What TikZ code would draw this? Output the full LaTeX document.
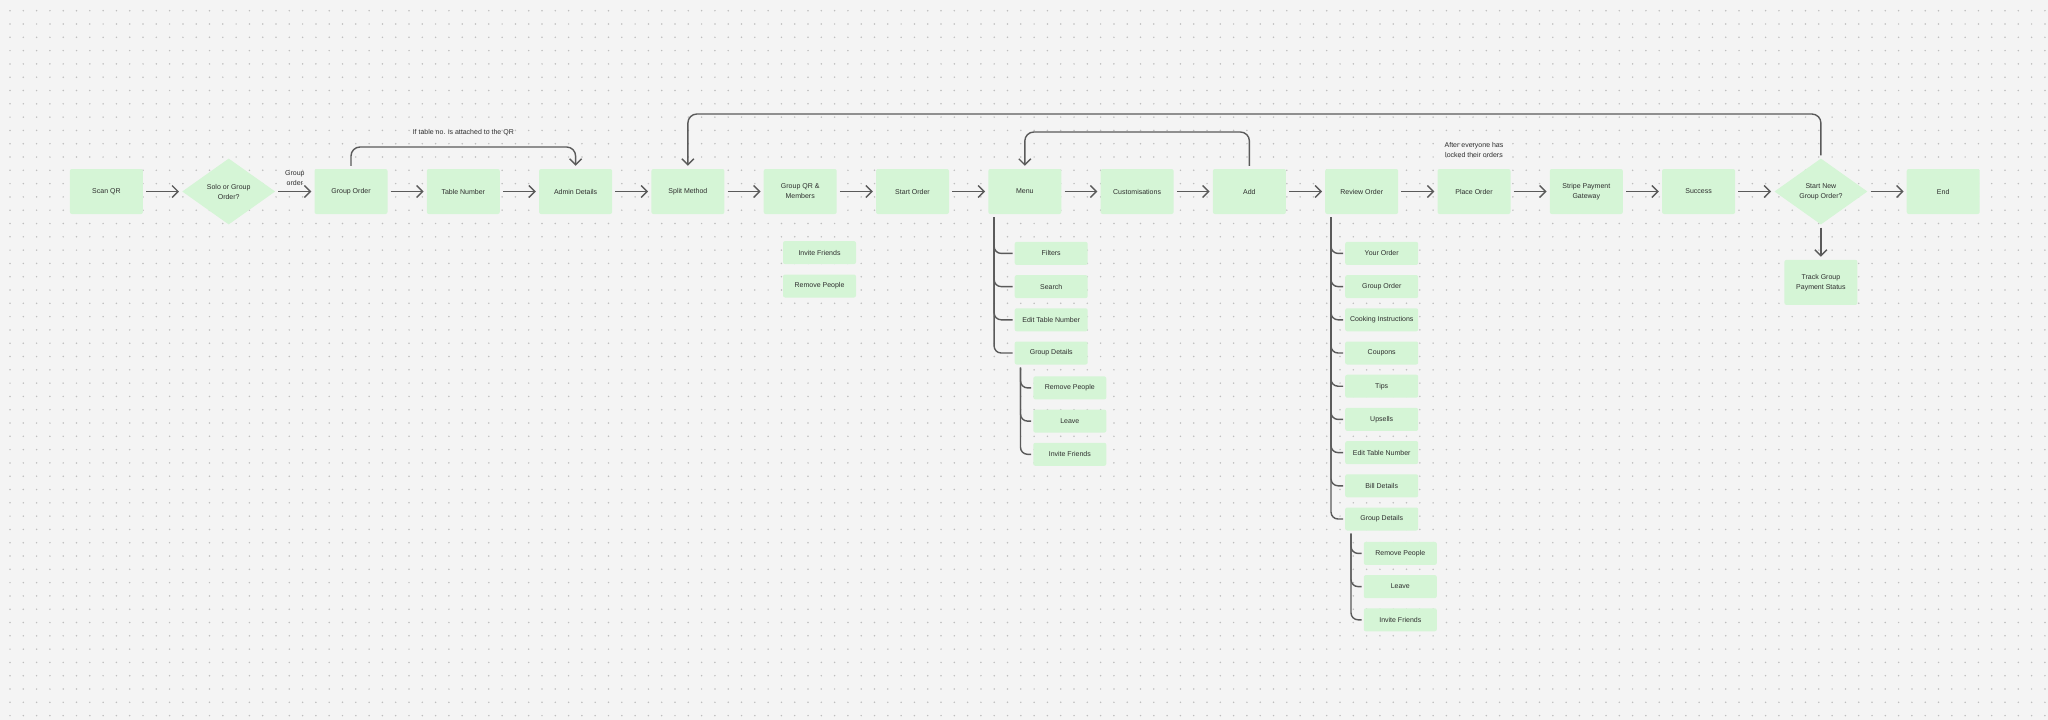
\documentclass[tikz,border=0pt]{standalone}
\usepackage{fontspec}
\setmainfont{Liberation Sans}
\usepackage{tikz}
\usetikzlibrary{arrows.meta,positioning,calc,shapes.geometric}
\definecolor{canvas}{HTML}{F4F4F4}
\definecolor{gridgray}{HTML}{BEBEBE}
\definecolor{mint}{HTML}{D5F5D6}
\definecolor{ink}{HTML}{2E2E2E}
\definecolor{wire}{HTML}{5A5A5A}

\begin{document}
\begin{tikzpicture}[x=1pt,y=-1pt,node distance=38.9pt,
  every node/.style={font=\fontsize{7}{10}\selectfont,text=ink,align=center},
  screen/.style={fill=mint,rounded corners=2pt,minimum width=73pt,minimum height=45pt,inner sep=1pt},
  choice/.style={diamond,fill=mint,minimum width=93pt,minimum height=66pt,inner sep=0pt},
  item/.style={fill=mint,rounded corners=2pt,minimum width=73pt,minimum height=23pt,inner sep=1pt},
  note/.style={inner sep=0pt},
  flow/.style={draw=wire,line width=1.4pt,-{Straight Barb[length=6pt,width=12pt]},shorten <=3pt,shorten >=3pt},
  branch/.style={draw=wire,line width=1.4pt,rounded corners=7pt}]
\fill[canvas] (0,0) rectangle (2048,720);
\useasboundingbox (0,0) rectangle (2048,720);
\foreach \i in {0,...,153} \fill[gridgray] \foreach \j in {0,...,53} {({10+13.3*\i},{10.7+13.3*\j}) circle (0.85pt)};
% main row
\node[screen] (scan) at (106.4,191.5) {Scan QR};
\node[choice,right=of scan] (solo) {Solo or Group\\Order?};
\node[screen,right=of solo] (grp) {Group Order};
\node[screen,right=of grp] (tbl) {Table Number};
\node[screen,right=of tbl] (adm) {Admin Details};
\node[screen,right=of adm] (split) {Split Method};
\node[screen,right=of split] (gqr) {Group QR \&\\Members};
\node[screen,right=of gqr] (start) {Start Order};
\node[screen,right=of start] (menu) {Menu};
\node[screen,right=of menu] (cust) {Customisations};
\node[screen,right=of cust] (add) {Add};
\node[screen,right=of add] (rev) {Review Order};
\node[screen,right=of rev] (plc) {Place Order};
\node[screen,right=of plc] (pay) {Stripe Payment\\Gateway};
\node[screen,right=of pay] (done) {Success};
\node[choice,right=of done] (again) {Start New\\Group Order?};
\node[screen,right=of again] (fin) {End};
\node[screen,below=35pt of again] (track) {Track Group\\Payment Status};
% group QR extras
\node[item,below=26.7pt of gqr.south west,anchor=north west,xshift=19.3pt] (qinv) {Invite Friends};
\node[item,below=10pt of qinv] (qrem) {Remove People};
% menu options
\node[item,below=27.5pt of menu.south west,anchor=north west,xshift=26.4pt] (mfil) {Filters};
\node[item,below=9.8pt of mfil] (msea) {Search};
\node[item,below=9.8pt of msea] (mtab) {Edit Table Number};
\node[item,below=9.8pt of mtab] (mdet) {Group Details};
\node[item,below=11.5pt of mdet.south west,anchor=north west,xshift=18.6pt] (mrem) {Remove People};
\node[item,below=9.8pt of mrem] (mlea) {Leave};
\node[item,below=9.8pt of mlea] (minv) {Invite Friends};
% review options
\node[item,below=27.5pt of rev.south west,anchor=north west,xshift=20pt] (ryou) {Your Order};
\node[item,below=9.8pt of ryou] (rgrp) {Group Order};
\node[item,below=9.8pt of rgrp] (rcook) {Cooking Instructions};
\node[item,below=9.8pt of rcook] (rcoup) {Coupons};
\node[item,below=9.8pt of rcoup] (rtip) {Tips};
\node[item,below=9.8pt of rtip] (rups) {Upsells};
\node[item,below=9.8pt of rups] (rtab) {Edit Table Number};
\node[item,below=9.8pt of rtab] (rbill) {Bill Details};
\node[item,below=9.8pt of rbill] (rdet) {Group Details};
\node[item,below=11pt of rdet.south west,anchor=north west,xshift=18.6pt] (rrem) {Remove People};
\node[item,below=9.8pt of rrem] (rlea) {Leave};
\node[item,below=9.8pt of rlea] (rinv) {Invite Friends};
% arrows
\foreach \a/\b in {scan/solo,grp/tbl,tbl/adm,adm/split,split/gqr,gqr/start,start/menu,menu/cust,cust/add,add/rev,rev/plc,plc/pay,pay/done,done/again,again/fin,again/track}
  \draw[flow] (\a) -- (\b);
\draw[flow] (solo) -- node[note,above=5.5pt] {Group\\order} (grp);
\coordinate (hopA) at (0,147);
\coordinate (hopB) at (0,132);
\coordinate (hopC) at (0,114);
\coordinate (capA) at (0,133);
\coordinate (capB) at (0,150);
\draw[flow,rounded corners=9pt] (grp.north) -- (grp.north |- hopA) -- (adm.north |- hopA) -- (adm.north);
\draw[flow,rounded corners=9pt] (add.north) -- (add.north |- hopB) -- (menu.north |- hopB) -- (menu.north);
\draw[flow,rounded corners=9pt] (again.north) -- (again.north |- hopC) -- (split.north |- hopC) -- (split.north);
\node[note] at (tbl.north |- capA) {If table no. is attached to the QR};
\node[note] at (plc.north |- capB) {After everyone has\\locked their orders};
% branches
\foreach \c in {mfil,msea,mtab,mdet} \draw[branch] ([xshift=6pt,yshift=-3pt]menu.south west) |- ([xshift=-2pt]\c.west);
\foreach \c in {mrem,mlea,minv} \draw[branch] ([xshift=6pt,yshift=-3pt]mdet.south west) |- ([xshift=-2pt]\c.west);
\foreach \c in {ryou,rgrp,rcook,rcoup,rtip,rups,rtab,rbill,rdet} \draw[branch] ([xshift=6pt,yshift=-3pt]rev.south west) |- ([xshift=-2pt]\c.west);
\foreach \c in {rrem,rlea,rinv} \draw[branch] ([xshift=6pt,yshift=-3pt]rdet.south west) |- ([xshift=-2pt]\c.west);
\end{tikzpicture}
\end{document}
